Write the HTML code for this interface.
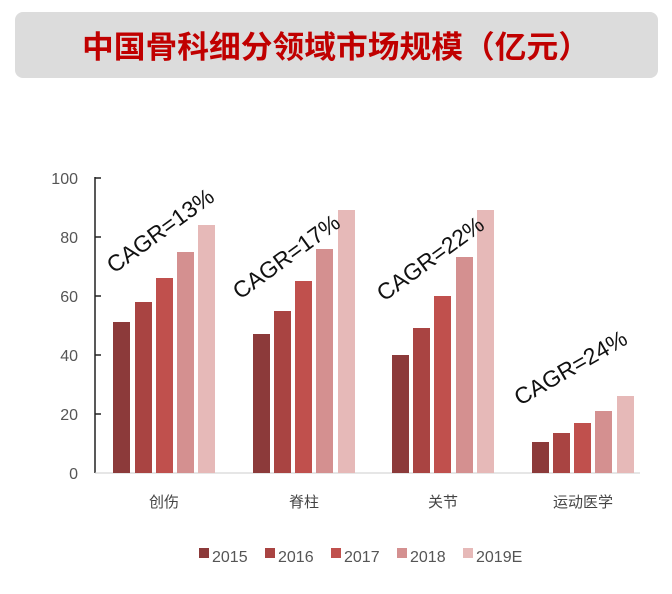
<!DOCTYPE html>
<html><head><meta charset="utf-8"><style>
body{margin:0;width:672px;height:589px;background:#fff;overflow:hidden;font-family:"Liberation Sans","Noto Sans CJK SC",sans-serif}
</style></head><body>
<svg width="672" height="589" viewBox="0 0 672 589" xmlns="http://www.w3.org/2000/svg">
<rect x="15" y="12" width="643" height="66" rx="8" fill="#dcdcdc"/>
<text x="336" y="58" text-anchor="middle" font-size="31" font-weight="bold" fill="#c00000" textLength="508" lengthAdjust="spacingAndGlyphs" font-family="Liberation Sans,Noto Sans CJK SC,sans-serif">中国骨科细分领域市场规模（亿元）</text>
<g font-size="16" fill="#555" text-anchor="end" font-family="Liberation Sans,sans-serif">
<text x="78" y="184">100</text><text x="78" y="243">80</text><text x="78" y="302">60</text><text x="78" y="361">40</text><text x="78" y="420">20</text><text x="78" y="479">0</text>
</g>
<g stroke="#222" stroke-width="1.5">
<line x1="95" y1="177" x2="95" y2="473"/>
<line x1="95" y1="178" x2="101" y2="178"/><line x1="95" y1="237" x2="101" y2="237"/><line x1="95" y1="296" x2="101" y2="296"/><line x1="95" y1="355" x2="101" y2="355"/><line x1="95" y1="414" x2="101" y2="414"/>
</g>
<line x1="95" y1="473" x2="640" y2="473" stroke="#ccc" stroke-width="1"/>
<g id="bars">
<rect x="113" y="322" width="17" height="151" fill="#8c3a3a"/>
<rect x="135" y="302" width="17" height="171" fill="#a94442"/>
<rect x="156" y="278" width="17" height="195" fill="#c0504d"/>
<rect x="177" y="252" width="17" height="221" fill="#d49090"/>
<rect x="198" y="225" width="17" height="248" fill="#e6b9b8"/>
<rect x="253" y="334" width="17" height="139" fill="#8c3a3a"/>
<rect x="274" y="311" width="17" height="162" fill="#a94442"/>
<rect x="295" y="281" width="17" height="192" fill="#c0504d"/>
<rect x="316" y="249" width="17" height="224" fill="#d49090"/>
<rect x="338" y="210" width="17" height="263" fill="#e6b9b8"/>
<rect x="392" y="355" width="17" height="118" fill="#8c3a3a"/>
<rect x="413" y="328" width="17" height="145" fill="#a94442"/>
<rect x="434" y="296" width="17" height="177" fill="#c0504d"/>
<rect x="456" y="257" width="17" height="216" fill="#d49090"/>
<rect x="477" y="210" width="17" height="263" fill="#e6b9b8"/>
<rect x="532" y="442" width="17" height="31" fill="#8c3a3a"/>
<rect x="553" y="433" width="17" height="40" fill="#a94442"/>
<rect x="574" y="423" width="17" height="50" fill="#c0504d"/>
<rect x="595" y="411" width="17" height="62" fill="#d49090"/>
<rect x="617" y="396" width="17" height="77" fill="#e6b9b8"/>
</g>
<g font-size="23" fill="#111" font-family="Liberation Sans,sans-serif">
<text transform="translate(114,274) rotate(-36)">CAGR=13%</text>
<text transform="translate(240,300) rotate(-36)">CAGR=17%</text>
<text transform="translate(384,302) rotate(-36)">CAGR=22%</text>
<text transform="translate(520,406) rotate(-30)">CAGR=24%</text>
</g>
<g font-size="15" fill="#444" text-anchor="middle" font-family="Liberation Sans,Noto Sans CJK SC,sans-serif">
<text x="164" y="507">创伤</text><text x="304" y="507">脊柱</text><text x="443" y="507">关节</text><text x="583" y="507">运动医学</text>
</g>
<g font-size="16" fill="#555" font-family="Liberation Sans,sans-serif">
<rect x="199" y="548" width="10" height="10" fill="#8c3a3a"/><text x="212" y="562">2015</text>
<rect x="265" y="548" width="10" height="10" fill="#a94442"/><text x="278" y="562">2016</text>
<rect x="331" y="548" width="10" height="10" fill="#c0504d"/><text x="344" y="562">2017</text>
<rect x="397" y="548" width="10" height="10" fill="#d49090"/><text x="410" y="562">2018</text>
<rect x="463" y="548" width="10" height="10" fill="#e6b9b8"/><text x="476" y="562">2019E</text>
</g>
</svg>
</body></html>
